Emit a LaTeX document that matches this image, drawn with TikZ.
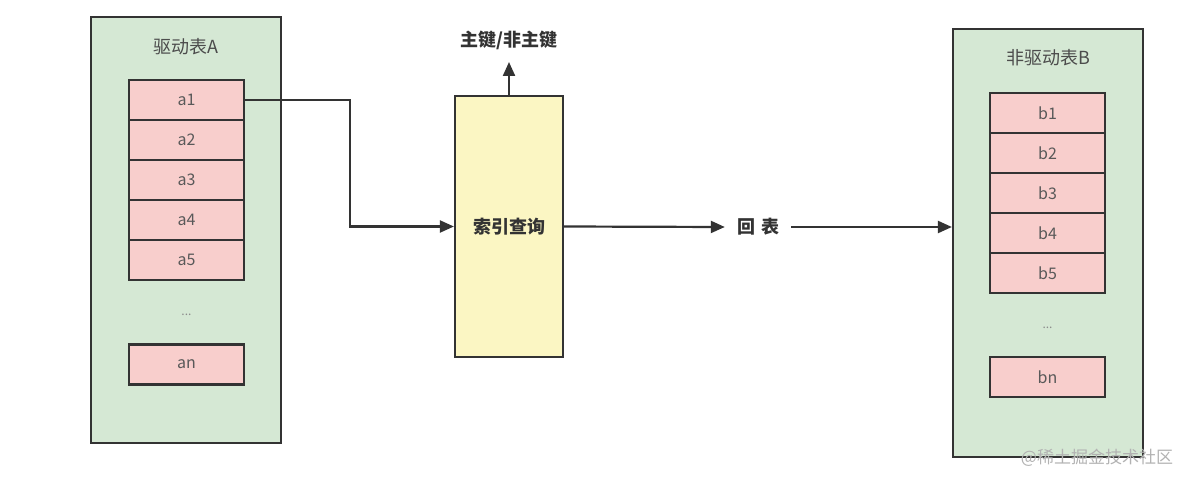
\documentclass[tikz,border=0pt]{standalone}
\usepackage{fontspec}
\setmainfont{Noto Sans CJK SC}
\usetikzlibrary{arrows.meta}
\definecolor{tblgreen}{HTML}{D5E8D4}
\definecolor{cellpink}{HTML}{F8CECC}
\definecolor{idxyellow}{HTML}{FBF6C3}
\definecolor{edge}{HTML}{333333}
\tikzset{
  tbl/.style={draw=edge,line width=2.2pt,fill=tblgreen,minimum width=190,minimum height=426,inner sep=0pt},
  cell/.style={draw=edge,line width=2.2pt,fill=cellpink,minimum width=115,minimum height=40,inner sep=0pt,text=black!65,font=\fontsize{16}{16}\selectfont},
  ttl/.style={text=black!70,font=\fontsize{18}{18}\selectfont},
  lbl/.style={text=black!80,font=\bfseries\fontsize{18}{18}\selectfont},
  arr/.style={-{Triangle[length=14pt,width=12pt]},line width=2.2pt,draw=edge}
}
\begin{document}
\begin{tikzpicture}[x=1pt,y=-1pt]
\useasboundingbox (0,0) rectangle (1194,484);
% driving table A
\node[tbl] (A) at (186,230) {};
\node[ttl] (titleA) at (186,47) {驱动表A};
\foreach \i in {1,...,5}
  \node[cell] (a\i) at (186.5,60+40*\i) {a\i};
\node[cell,text=black!45,font=\fontsize{12}{12}\selectfont] (dotsA) at (186.5,315) [draw=none,fill=none] {...};
\node[cell] (an) at (186.5,364.5) {an};
% driven table B
\node[tbl,minimum height=428] (B) at (1048,243) {};
\node[ttl] (titleB) at (1048,58) {非驱动表B};
\foreach \i in {1,...,5}
  \node[cell] (b\i) at (1047.5,73+40*\i) {b\i};
\node[cell,text=black!45,font=\fontsize{12}{12}\selectfont] (dotsB) at (1047.5,328) [draw=none,fill=none] {...};
\node[cell] (bn) at (1047.5,377) {bn};
% index lookup
\node[draw=edge,line width=2.2pt,fill=idxyellow,minimum width=108,minimum height=261,inner sep=0pt,lbl] (idx) at (509,226.5) {索引查询};
\coordinate (pk) at (509,62);
\node[lbl] (pktext) at (509,40) {主键/非主键};
\node[lbl,inner xsep=12pt] (back) at (758,227) {回\hspace{6pt}表};
% connectors
\draw[arr] (a1.east) -- ++(105,0) |- (idx.west);
\draw[arr] (idx.north) -- (pk);
\draw[arr] (idx.east) -- (back.west);
\draw[arr] (back.east) -- (B.west |- back.east);
% watermark
\node[text=black!30,font=\fontsize{17}{17}\selectfont] (mark) at (1097,458) {@稀土掘金技术社区};
\end{tikzpicture}
\end{document}
